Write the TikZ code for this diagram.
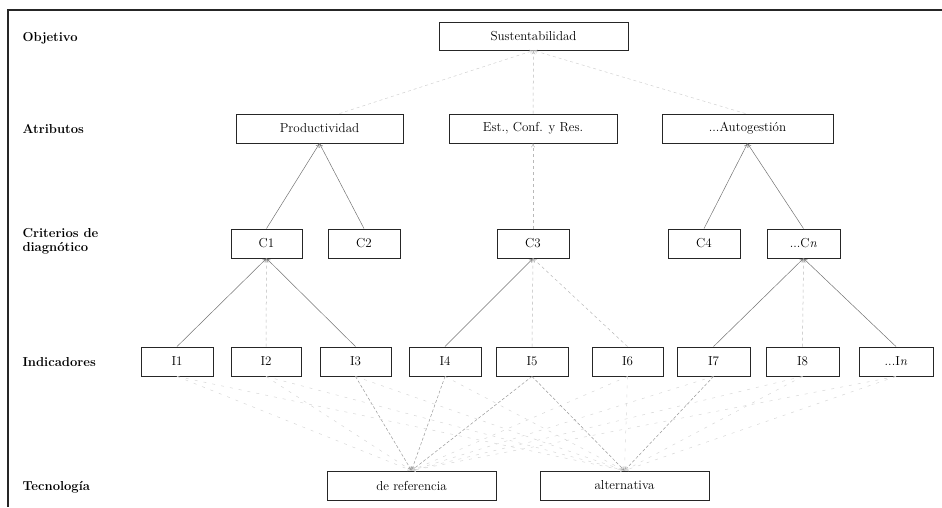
\documentclass[tikz,border=0pt]{standalone}
\usetikzlibrary{arrows.meta}
\begin{document}
\begin{tikzpicture}[x=1pt,y=-1pt,
  box/.style={draw=black!85,line width=0.9pt,minimum height=29pt,inner sep=1pt,font=\fontsize{13}{15}\selectfont},
  wbox/.style={box,minimum width=170pt},
  sbox/.style={box,minimum width=72pt},
  lbl/.style={anchor=west,align=left,font=\fontsize{13}{14}\selectfont\bfseries},
  link/.style={draw=black!55,line width=0.5pt,-{To[length=4pt,width=4pt]}},
  flink/.style={draw=black!28,line width=0.5pt,dashed,-{To[length=4pt,width=4pt]}},
  olink/.style={draw=black!18,line width=0.5pt,dashed,-{To[length=4pt,width=4pt]}},
  tlink/.style={draw=black!40,line width=0.5pt,densely dashed,-{To[length=4pt,width=4pt]}},
  tflink/.style={draw=black!16,line width=0.5pt,loosely dashed,-{To[length=4pt,width=4pt]}}
]
\useasboundingbox (0,0) rectangle (942,507);
% frame
\draw[line width=1.5pt,black!85] (942,10) -- (8,10) -- (8,507);
% left labels
\node[lbl] (lobj) at (19,38) {Objetivo};
\node[lbl] (latr) at (19,129) {Atributos};
\node[lbl] (lcri) at (19,241) {Criterios de\\diagn\'otico};
\node[lbl] (lind) at (19,362) {Indicadores};
\node[lbl] (ltec) at (19,487) {Tecnolog\'ia};
% boxes
\node[wbox,minimum width=189pt,minimum height=28pt] (obj) at (533.5,36) {Sustentabilidad};
\node[wbox,minimum width=167pt] (prod) at (319.5,128.5) {Productividad};
\node[wbox,minimum width=168pt] (est) at (533,128.5) {Est., Conf. y Res.};
\node[wbox,minimum width=171pt] (auto) at (747.5,128.5) {...Autogesti\'on};
\node[sbox,minimum width=71pt] (c1) at (266.5,243.5) {C1};
\node[sbox] (c2) at (364,243.5) {C2};
\node[sbox] (c3) at (533,243.5) {C3};
\node[sbox] (c4) at (704,243.5) {C4};
\node[sbox,minimum width=73pt] (cn) at (803.5,243.5) {...C\textit{n}};
\node[sbox] (i1) at (177,361.5) {I1};
\node[sbox,minimum width=70pt] (i2) at (266,361.5) {I2};
\node[sbox,minimum width=71pt] (i3) at (355.5,361.5) {I3};
\node[sbox] (i4) at (445,361.5) {I4};
\node[sbox] (i5) at (532,361.5) {I5};
\node[sbox,minimum width=71pt] (i6) at (627.5,361.5) {I6};
\node[sbox,minimum width=73pt] (i7) at (713.5,361.5) {I7};
\node[sbox,minimum width=73pt] (i8) at (802.5,361.5) {I8};
\node[sbox,minimum width=74pt] (in) at (896,361.5) {...I\textit{n}};
\node[wbox,minimum width=169pt] (ref) at (411.5,485.5) {de referencia};
\node[wbox,minimum width=169pt] (alt) at (624.5,485.5) {alternativa};
% attributes -> objective
\draw[olink] (prod.north) ++(20,0) -- (obj.south);
\draw[flink] (est.north) -- (obj.south);
\draw[olink] (auto.north) ++(-2,0) -- (obj.south);
% criteria -> attributes
\draw[link] (c1.north) -- (prod.south);
\draw[link] (c2.north) -- (prod.south);
\draw[flink] (c3.north) -- (est.south);
\draw[link] (c4.north) -- (auto.south);
\draw[link] (cn.north) -- (auto.south);
% indicators -> criteria
\draw[link] (i1.north) -- (c1.south);
\draw[flink] (i2.north) -- (c1.south);
\draw[link] (i3.north) -- (c1.south);
\draw[link] (i4.north) -- (c3.south);
\draw[flink] (i5.north) -- (c3.south);
\draw[flink] (i6.north) -- (c3.south);
\draw[link] (i7.north) -- (cn.south);
\draw[flink] (i8.north) -- (cn.south);
\draw[link] (in.north) -- (cn.south);
% indicators -> technology
\draw[tflink] (i1.south) -- (ref.north);
\draw[tflink] (i2.south) -- (ref.north);
\draw[tlink] (i3.south) -- (ref.north);
\draw[tlink] (i4.south) -- (ref.north);
\draw[tlink] (i5.south) -- (ref.north);
\draw[tflink] (i6.south) -- (ref.north);
\draw[tflink] (i7.south) -- (ref.north);
\draw[tflink] (i8.south) -- (ref.north);
\draw[tflink] (in.south) -- (ref.north);
\draw[tflink] (i1.south) -- (alt.north);
\draw[tflink] (i2.south) -- (alt.north);
\draw[tflink] (i3.south) -- (alt.north);
\draw[tflink] (i4.south) -- (alt.north);
\draw[tlink] (i5.south) -- (alt.north);
\draw[tflink] (i6.south) -- (alt.north);
\draw[tlink] (i7.south) -- (alt.north);
\draw[tflink] (i8.south) -- (alt.north);
\draw[tflink] (in.south) -- (alt.north);
\end{tikzpicture}
\end{document}
